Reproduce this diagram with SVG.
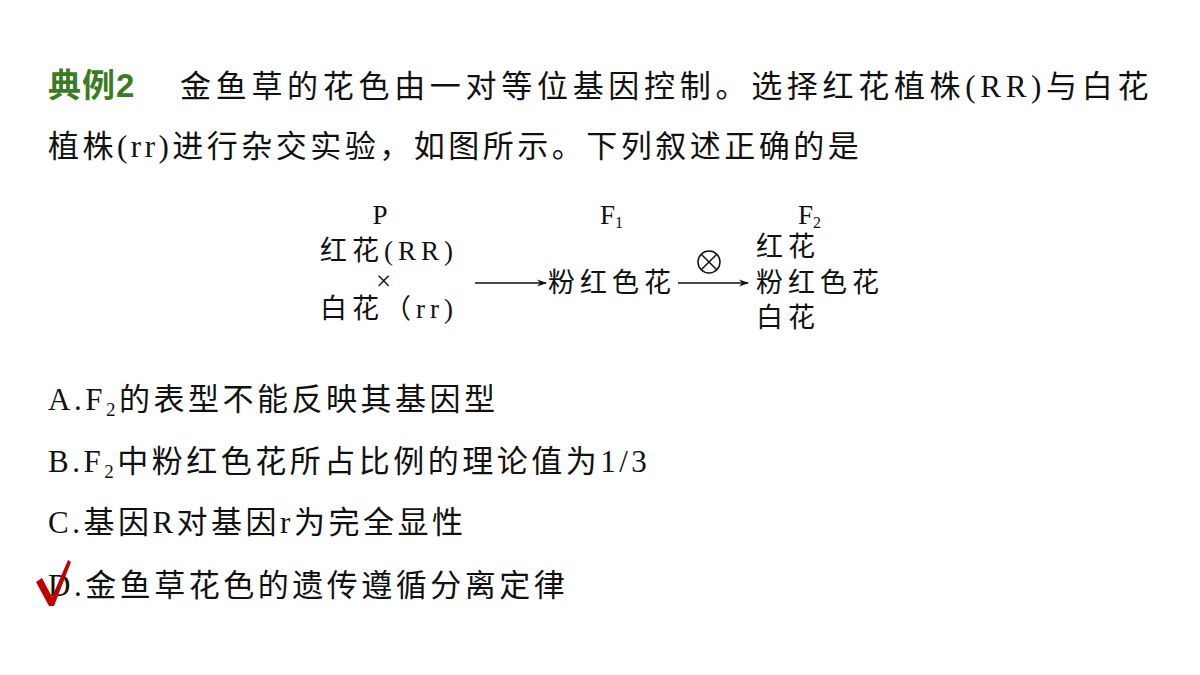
<svg xmlns="http://www.w3.org/2000/svg" width="1200" height="675" viewBox="0 0 1200 675">
<style>
.t{font-family:"Liberation Serif","Noto Sans CJK SC",serif;font-size:31px;fill:#111;letter-spacing:3.5px}
.d{font-family:"Liberation Serif","Noto Sans CJK SC",serif;font-size:27px;fill:#111;letter-spacing:5px}
.h{font-family:"Liberation Sans","Noto Sans CJK SC",sans-serif;font-size:33px;font-weight:bold;fill:#3d7a24;letter-spacing:1px}
</style>
<defs><marker id="a" markerWidth="10" markerHeight="8" refX="9" refY="4" orient="auto" markerUnits="userSpaceOnUse"><path d="M0,0.5 L10,4 L0,7.5 L3,4Z" fill="#111"/></marker></defs>
<rect width="1200" height="675" fill="#fff"/>
<g id="title">
<text x="48" y="97" class="h">典例2</text>
<text x="180" y="97" class="t" textLength="972" lengthAdjust="spacing">金鱼草的花色由一对等位基因控制。选择红花植株(RR)与白花</text>
<text x="48" y="157" class="t">植株(rr)进行杂交实验，如图所示。下列叙述正确的是</text>
</g>
<g id="P">
<text x="380" y="224" class="d" text-anchor="middle" style="letter-spacing:0">P</text>
<text x="320" y="260" class="d">红花(RR)</text>
<text x="376" y="290" class="d" style="letter-spacing:0">×</text>
<text x="320" y="318" class="d">白花（rr)</text>
</g>
<g id="F1">
<text x="600" y="224" class="d" style="letter-spacing:0">F<tspan font-size="16" dy="4">1</tspan></text>
<text x="548" y="292" class="d">粉红色花</text>
</g>
<g id="F2">
<text x="798" y="224" class="d" style="letter-spacing:0">F<tspan font-size="16" dy="4">2</tspan></text>
<text x="756" y="256" class="d">红花</text>
<text x="756" y="292" class="d">粉红色花</text>
<text x="756" y="327" class="d">白花</text>
</g>
<g id="connectors" stroke="#111" stroke-width="1.5" fill="none">
<line x1="475" y1="283" x2="546" y2="283" marker-end="url(#a)"/>
<line x1="678" y1="283" x2="748" y2="283" marker-end="url(#a)"/>
<circle cx="709" cy="262" r="11"/>
<path d="M701,254 L717,270 M717,254 L701,270"/>
</g>
<g id="options">
<text x="48" y="410" class="t">A.F<tspan font-size="19" dy="6">2</tspan><tspan dy="-6">的表型不能反映其基因型</tspan></text>
<text x="48" y="472" class="t">B.F<tspan font-size="19" dy="6">2</tspan><tspan dy="-6">中粉红色花所占比例的理论值为1/3</tspan></text>
<text x="48" y="533" class="t">C.基因R对基因r为完全显性</text>
<text x="48" y="596" class="t">D.金鱼草花色的遗传遵循分离定律</text>
<path d="M36,582 L42,578 L52,597 L68,560 L71,562 L54,606 L49,606Z" fill="#c00000"/>
</g>
</svg>
